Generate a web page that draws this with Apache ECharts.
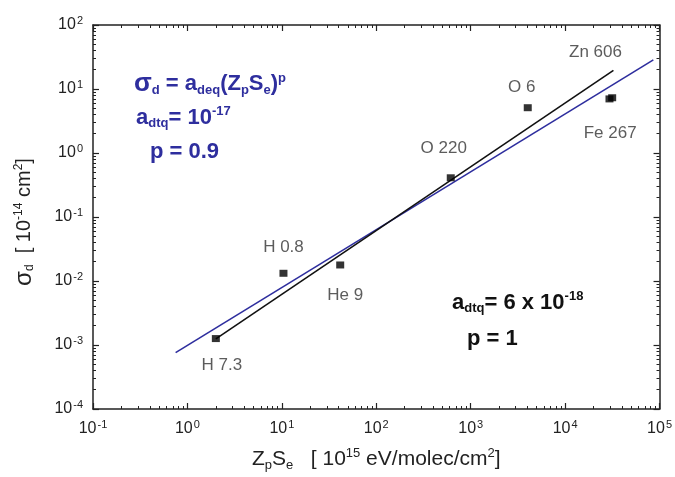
<!DOCTYPE html>
<html>
<head>
<meta charset="utf-8">
<script src="https://cdn.jsdelivr.net/npm/echarts@6/dist/echarts.min.js"></script>
<style>
  html, body { margin: 0; padding: 0; background: #fff; }
  #chart { width: 675px; height: 477px; }
</style>
</head>
<body>
<div id="chart"></div>
<script>
// 测量点 (Z_pS_e, σ_d)
const pointNames = ['H 7.3', 'H 0.8', 'He 9', 'O 220', 'O 6', 'Zn 606', 'Fe 267'];
const pointX = [2.0, 10.4, 41.5, 615, 4020, 29500, 31500];
const pointY = [0.00126, 0.0132, 0.0178, 0.41, 5.1, 7.0, 7.3];

// 拟合线端点：p = 1 (黑) 与 p = 0.9 (蓝)
const fitP1X = [2.0, 32500];
const fitP1Y = [0.00125, 19.5];
const fitP09X = [0.75, 86000];
const fitP09Y = [0.00076, 28.5];

// 刻度范围
const xMajorTicks = [0.1, 1, 10, 100, 1000, 10000, 100000];
const yMajorTicks = [0.0001, 0.001, 0.01, 0.1, 1, 10, 100];

const BLUE = '#2e2e9e';
const INK = '#222';

// 标签相对点的偏移（像素）
const labelOffsets = [[6, 27], [0, -26], [5, 30], [-7, -29], [-6, -20], [-14, -47], [-2, 36]];

const X0 = xMajorTicks[0], X1 = xMajorTicks[xMajorTicks.length - 1];
const Y0 = yMajorTicks[0], Y1 = yMajorTicks[yMajorTicks.length - 1];

function powLabel(v) {
  return '{b|10}{s|' + Math.round(Math.log10(v)) + '}';
}

function rich(color, size) {
  const small = Math.round(size * 0.6);
  const shift = Math.round(size * 0.55);
  return {
    n: { fontSize: size, color },
    big: { fontSize: size + 4, color },
    sub: { fontSize: small, color, padding: [shift, 0, 0, 0] },
    sup: { fontSize: small, color, padding: [0, 0, shift, 0] }
  };
}

function frameAxis(pos, lo, hi, withLabels, name) {
  const ax = {
    type: 'log', logBase: 10, min: lo, max: hi, position: pos,
    axisLine: { show: true, onZero: false, lineStyle: { color: INK, width: 1.5 } },
    axisTick: { show: true, inside: true, length: 6, lineStyle: { color: INK, width: 1.2 } },
    minorTick: { show: true, splitNumber: 9, length: 3 },
    axisLabel: withLabels
      ? {
          show: true, margin: 10, formatter: powLabel,
          rich: {
            b: { fontSize: 16, color: INK },
            s: { fontSize: 11, color: INK, padding: [0, 0, 9, 1] }
          }
        }
      : { show: false },
    splitLine: { show: false }
  };
  if (name) Object.assign(ax, name);
  return ax;
}

function note(text, left, top, color) {
  return { text, left, top, padding: 0, textStyle: { rich: rich(color, 22) } };
}

const chart = echarts.init(document.getElementById('chart'));

chart.setOption({
  animation: false,
  grid: { left: 93, right: 13, top: 25, bottom: 67 },
  title: [
    note('{big|σ}{sub|d}{n| = a}{sub|deq}{n|(Z}{sub|p}{n|S}{sub|e}{n|)}{sup|p}', 134, 71, BLUE),
    note('{n|a}{sub|dtq}{n|= 10}{sup|-17}', 136, 105, BLUE),
    note('{n|p = 0.9}', 150, 141, BLUE),
    note('{n|a}{sub|dtq}{n|= 6 x 10}{sup|-18}', 452, 290, '#111'),
    note('{n|p = 1}', 467, 328, '#111')
  ],
  xAxis: [
    frameAxis('bottom', X0, X1, true, {
      name: '{n|Z}{sub|p}{n|S}{sub|e}{n|   [ 10}{sup|15}{n| eV/molec/cm}{sup|2}{n|]}',
      nameLocation: 'middle', nameGap: 38,
      nameTextStyle: { rich: rich(INK, 21) }
    }),
    frameAxis('top', X0, X1, false)
  ],
  yAxis: [
    frameAxis('left', Y0, Y1, true, {
      name: '{big|σ}{sub|d}{n|  [ 10}{sup|-14}{n| cm}{sup|2}{n|]}   ',
      nameLocation: 'middle', nameGap: 57, nameRotate: 90,
      nameTextStyle: { rich: rich(INK, 20) }
    }),
    frameAxis('right', Y0, Y1, false)
  ],
  series: [
    {
      type: 'line', showSymbol: false,
      lineStyle: { color: BLUE, width: 1.6 },
      data: fitP09X.map((x, i) => [x, fitP09Y[i]])
    },
    {
      type: 'line', showSymbol: false,
      lineStyle: { color: '#111', width: 1.6 },
      data: fitP1X.map((x, i) => [x, fitP1Y[i]])
    },
    {
      type: 'scatter', z: 6,
      symbol: 'rect', symbolSize: [8, 7],
      itemStyle: { color: '#000' },
      data: pointX.map((x, i) => ({
        value: [x, pointY[i]],
        name: pointNames[i],
        label: {
          show: true, position: 'inside', offset: labelOffsets[i],
          formatter: '{b}', color: '#333', fontSize: 17
        }
      }))
    }
  ]
});
</script>
</body>
</html>
